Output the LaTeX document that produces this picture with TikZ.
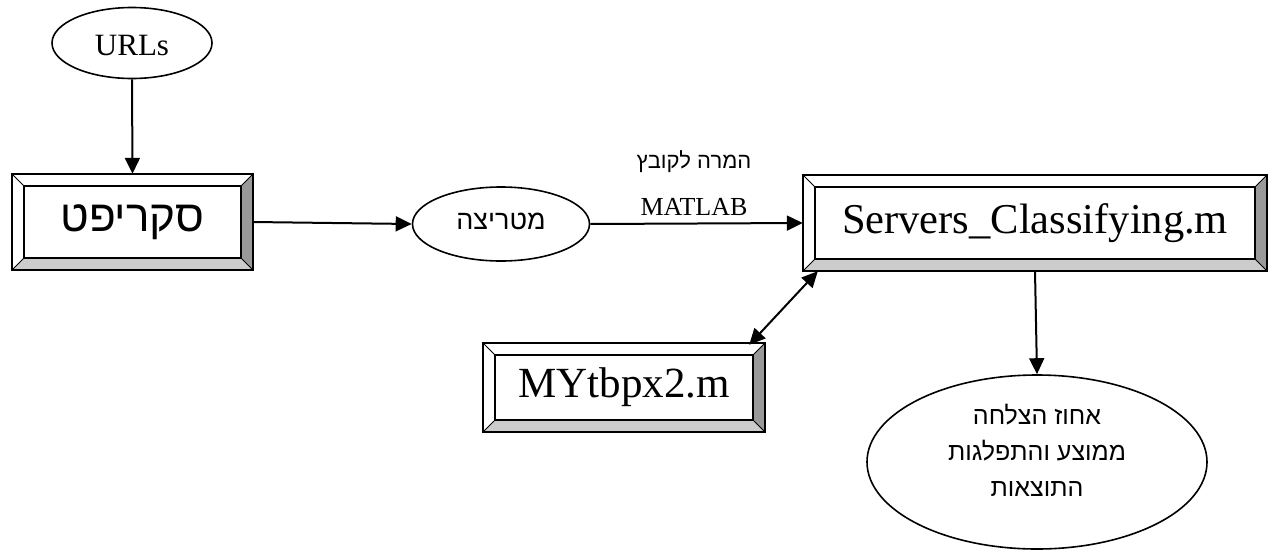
\documentclass[tikz,border=0pt]{standalone}
\usepackage{fontspec}
\setmainfont{Liberation Serif}
\newfontfamily\heb[Script=Hebrew]{Liberation Sans}
\TeXXeTstate=1
\usetikzlibrary{shapes.geometric,arrows.meta,calc}
\definecolor{bevdark}{HTML}{999999}
\definecolor{bevlight}{HTML}{CCCCCC}
\newcommand\bevel[1]{%
  \fill[bevdark] (#1.north east) -- (#1.south east) -- ($(#1.south east)+(-12pt,12pt)$) -- ($(#1.north east)+(-12pt,-12pt)$) -- cycle;
  \fill[bevlight] (#1.south west) -- (#1.south east) -- ($(#1.south east)+(-12pt,12pt)$) -- ($(#1.south west)+(12pt,12pt)$) -- cycle;
  \draw[line width=2pt] (#1.south west) rectangle (#1.north east);
  \draw[line width=1.8pt] ($(#1.south west)+(12pt,12pt)$) rectangle ($(#1.north east)+(-12pt,-12pt)$);
  \draw[line width=1pt] (#1.north west) -- ++(12pt,-12pt) (#1.north east) -- ++(-12pt,-12pt)
     (#1.south west) -- ++(12pt,12pt) (#1.south east) -- ++(-12pt,12pt);
}
\tikzset{
  bbox/.style={rectangle, inner sep=0pt, fill=white},
  oval/.style={ellipse, draw, line width=1.6pt, inner sep=0pt},
  arr/.style={line width=2pt, -{Triangle[length=16pt,width=15pt]}},
  darr/.style={line width=2pt, {Triangle[length=16pt,width=15pt]}-{Triangle[length=16pt,width=15pt]}},
}
\begin{document}
\begin{tikzpicture}[x=1pt,y=-1pt]
\useasboundingbox (0,0) rectangle (1279,557);
% nodes
\node[oval, minimum width=160pt, minimum height=71pt] (urls) at (132,43) {};
\node[font=\fontsize{31}{36}\selectfont] (urlstext) at (132,46) {URLs};
\node[bbox, minimum width=241pt, minimum height=96pt] (script) at (132.5,222) {};
\bevel{script}
\node[font=\heb\fontsize{44}{50}\selectfont] (scripttext) at (script.center) {\beginR סקריפט\endR};
\node[oval, minimum width=177pt, minimum height=74pt] (matrix) at (501,224) {};
\node[font=\heb\fontsize{27}{30}\selectfont] (matrixtext) at (501,221) {\beginR מטריצה\endR};
\node[bbox, minimum width=464pt, minimum height=96pt] (servers) at (1035,223) {};
\bevel{servers}
\node[font=\fontsize{42.5}{48}\selectfont] (serverstext) at (servers.center) {Servers\_Classifying.m};
\node[bbox, minimum width=282pt, minimum height=89pt] (my) at (624,387.5) {};
\bevel{my}
\node[font=\fontsize{43}{48}\selectfont] (mytext) at (my.center) {MYtbpx2.m};
\node[oval, minimum width=340pt, minimum height=174pt] (result) at (1037,462) {};
\node[font=\heb\fontsize{25}{36}\selectfont, align=center] (resulttext) at (1037,450) {\beginR אחוז הצלחה\endR\\\beginR ממוצע והתפלגות\endR\\\beginR התוצאות\endR};
\node[font=\heb\fontsize{22}{26}\selectfont] (lbl1) at (694,162) {\beginR המרה לקובץ\endR};
\node[font=\fontsize{26}{30}\selectfont] (lbl2) at (694,207) {MATLAB};
% connectors
\draw[arr] (urls.south) -- (script.north);
\draw[arr] (script.east) -- (matrix.west);
\draw[arr] (matrix.east) -- (servers.west);
\draw[darr] ($(my.north east)+(-16pt,-2pt)$) -- ($(servers.south west)+(15pt,0pt)$);
\draw[arr] (servers.south) -- (result.north);
\end{tikzpicture}
\end{document}
